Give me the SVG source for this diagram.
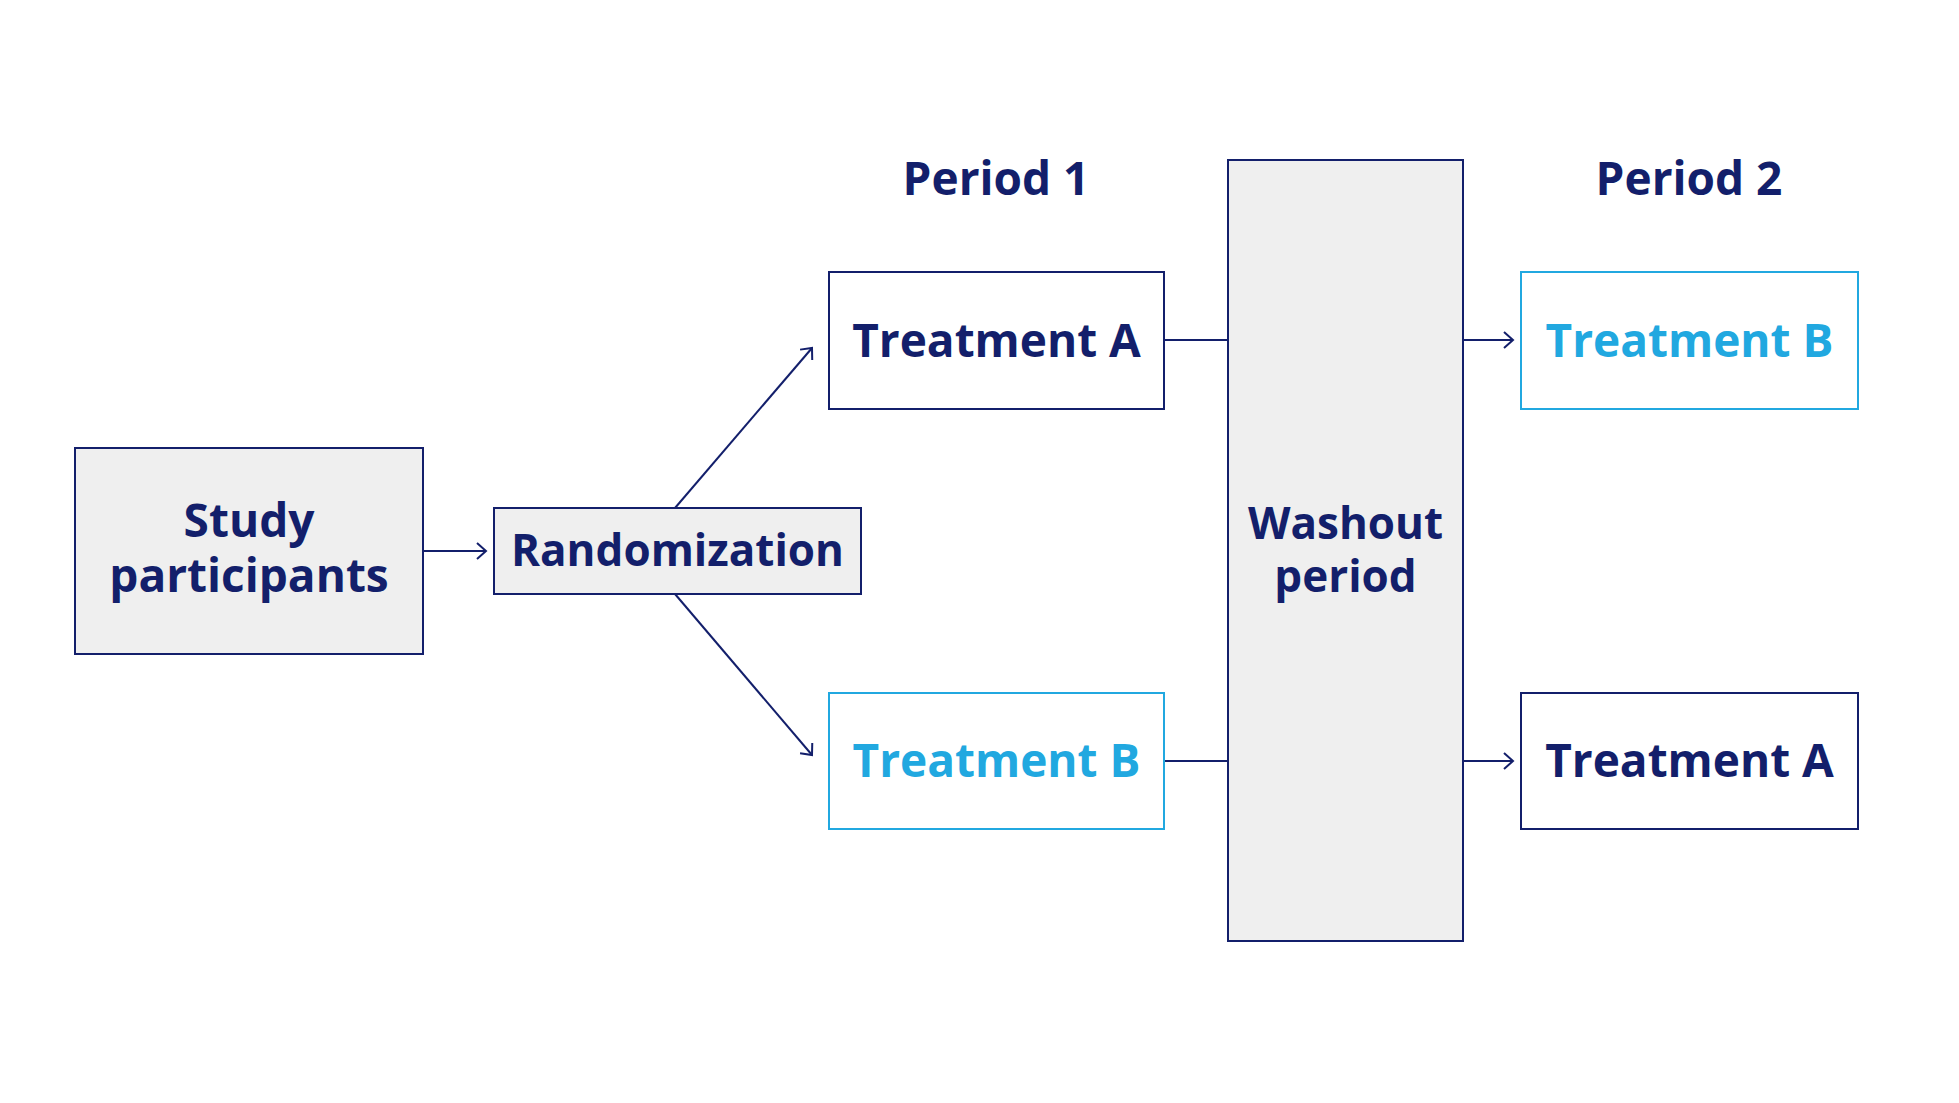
<svg xmlns="http://www.w3.org/2000/svg" width="1959" height="1103" viewBox="0 0 1959 1103">
  <style>
    .t { font-family: "Open Sans", "Noto Sans", "Liberation Sans", sans-serif; font-weight: 700; font-size: 46px; text-anchor: middle; }
    .s44 { font-size: 44px; }
    .navy { fill: #131f6b; }
    .blue { fill: #21a8e0; }
    .box-navy { fill: #ffffff; stroke: #131f6b; stroke-width: 2; }
    .box-blue { fill: #ffffff; stroke: #21a8e0; stroke-width: 2; }
    .box-gray { fill: #efefef; stroke: #131f6b; stroke-width: 2; }
    .conn { stroke: #131f6b; stroke-width: 2; fill: none; }
  </style>
  <defs>
    <marker id="arr" markerUnits="userSpaceOnUse" markerWidth="14" markerHeight="20" refX="11" refY="9" orient="auto" viewBox="0 0 14 20">
      <path d="M2,1 L11,9 L2,17" fill="none" stroke="#131f6b" stroke-width="2"/>
    </marker>
  </defs>
  <rect width="1959" height="1103" fill="#ffffff"/>

  <g id="labels">
    <text class="t navy" x="996" y="195">Period 1</text>
    <text class="t navy" x="1689" y="195">Period 2</text>
  </g>

  <g id="connectors">
    <line class="conn" x1="423" y1="551" x2="486" y2="551" marker-end="url(#arr)"/>
    <line class="conn" x1="675" y1="508" x2="812" y2="348" marker-end="url(#arr)"/>
    <line class="conn" x1="675" y1="594" x2="812" y2="755" marker-end="url(#arr)"/>
    <line class="conn" x1="1164" y1="340" x2="1228" y2="340"/>
    <line class="conn" x1="1164" y1="761" x2="1228" y2="761"/>
    <line class="conn" x1="1463" y1="340" x2="1513" y2="340" marker-end="url(#arr)"/>
    <line class="conn" x1="1463" y1="761" x2="1513" y2="761" marker-end="url(#arr)"/>
  </g>

  <g id="study-participants">
    <rect class="box-gray" x="75" y="448" width="348" height="206"/>
    <text class="t navy" x="249" y="537">Study</text>
    <text class="t navy" x="249" y="592">participants</text>
  </g>

  <g id="randomization">
    <rect class="box-gray" x="494" y="508" width="367" height="86"/>
    <text class="t s44 navy" x="677.5" y="566">Randomization</text>
  </g>

  <g id="p1-treatment-a">
    <rect class="box-navy" x="829" y="272" width="335" height="137"/>
    <text class="t navy" x="996.5" y="357">Treatment A</text>
  </g>

  <g id="p1-treatment-b">
    <rect class="box-blue" x="829" y="693" width="335" height="136"/>
    <text class="t blue" x="996.5" y="777">Treatment B</text>
  </g>

  <g id="washout">
    <rect class="box-gray" x="1228" y="160" width="235" height="781"/>
    <text class="t s44 navy" x="1345.5" y="539">Washout</text>
    <text class="t s44 navy" x="1345.5" y="592">period</text>
  </g>

  <g id="p2-treatment-b">
    <rect class="box-blue" x="1521" y="272" width="337" height="137"/>
    <text class="t blue" x="1689.5" y="357">Treatment B</text>
  </g>

  <g id="p2-treatment-a">
    <rect class="box-navy" x="1521" y="693" width="337" height="136"/>
    <text class="t navy" x="1689.5" y="777">Treatment A</text>
  </g>
</svg>
